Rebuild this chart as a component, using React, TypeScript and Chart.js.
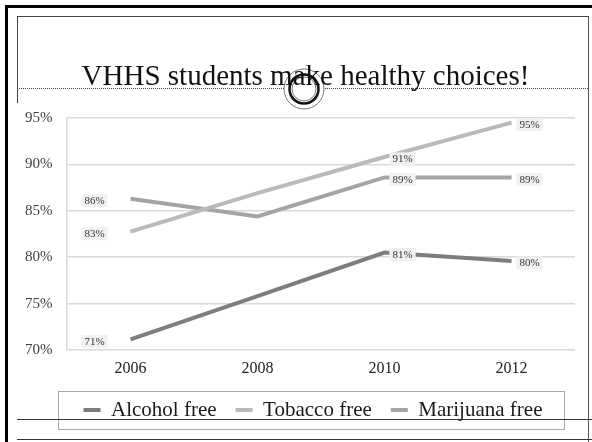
import React, { useEffect, useRef } from 'react';
import { Chart, registerables } from 'chart.js';

Chart.register(...registerables);

// ---- data ----
const years = ['2006', '2008', '2010', '2012'];
const alcoholFree = [71.15, 75.8, 80.5, 79.6];
const tobaccoFree = [82.75, 86.9, 90.8, 94.5];
const marijuanaFree = [86.3, 84.4, 88.6, 88.6];
const labelledYears = ['2006', '2010', '2012'];
const seriesNames = ['Alcohol free', 'Tobacco free', 'Marijuana free'];
const yMin = 70;
const yMax = 95;
const yStep = 5;
const titleText = 'VHHS students make healthy choices!';

const SERIF = '"Liberation Serif", "Times New Roman", serif';

const pointLabelPlugin = {
  id: 'pointLabels',
  afterDatasetsDraw(chart: any) {
    const ctx = chart.ctx;
    ctx.save();
    ctx.font = '11px ' + SERIF;
    ctx.textBaseline = 'middle';
    ctx.textAlign = 'center';
    chart.data.datasets.forEach((ds: any, di: number) => {
      const meta = chart.getDatasetMeta(di);
      meta.data.forEach((pt: any, i: number) => {
        const year = chart.data.labels[i];
        if (!labelledYears.includes(year)) return;
        const text = Math.round(ds.data[i]) + '%';
        const w = ctx.measureText(text).width + 6;
        const h = 13;
        const cx = i === 0 ? pt.x - 36 : pt.x + 18;
        const cy = pt.y + 2;
        ctx.fillStyle = '#f1f1f1';
        ctx.fillRect(cx - w / 2, cy - h / 2, w, h);
        ctx.fillStyle = '#333333';
        ctx.fillText(text, cx, cy + 0.5);
      });
    });
    ctx.restore();
  },
};

const legendFramePlugin = {
  id: 'legendFrame',
  afterDraw(chart: any) {
    const boxes = chart.legend && chart.legend.legendHitBoxes;
    if (!boxes || !boxes.length) return;
    const ctx = chart.ctx;
    const first = boxes[0];
    const last = boxes[boxes.length - 1];
    const left = Math.round(first.left - 26);
    const right = Math.round(last.left + last.width + 22);
    const top = Math.round(first.top - 9);
    const bottom = Math.round(first.top + first.height + 8);
    ctx.save();
    ctx.strokeStyle = '#a8a8a8';
    ctx.lineWidth = 1;
    ctx.strokeRect(left + 0.5, top + 0.5, right - left, bottom - top);
    ctx.restore();
  },
};

export default function App() {
  const canvasRef = useRef<HTMLCanvasElement | null>(null);

  useEffect(() => {
    if (!canvasRef.current) return;
    const chart = new Chart(canvasRef.current, {
      type: 'line',
      data: {
        labels: years,
        datasets: [
          {
            label: seriesNames[0],
            data: alcoholFree,
            borderColor: '#7d7d7d',
            backgroundColor: '#7d7d7d',
            borderWidth: 4,
            pointRadius: 0,
            tension: 0,
          },
          {
            label: seriesNames[1],
            data: tobaccoFree,
            borderColor: '#bababa',
            backgroundColor: '#bababa',
            borderWidth: 4,
            pointRadius: 0,
            tension: 0,
          },
          {
            label: seriesNames[2],
            data: marijuanaFree,
            borderColor: '#a4a4a4',
            backgroundColor: '#a4a4a4',
            borderWidth: 4,
            pointRadius: 0,
            tension: 0,
          },
        ],
      },
      options: {
        responsive: false,
        animation: false,
        devicePixelRatio: 1,
        layout: { padding: { left: 51, right: 17, top: 118, bottom: 11.5 } },
        plugins: {
          legend: {
            position: 'bottom',
            labels: {
              usePointStyle: true,
              pointStyle: 'line',
              pointStyleWidth: 17,
              padding: 19,
              color: '#1a1a1a',
              font: { family: SERIF, size: 21 },
            },
          },
          tooltip: { enabled: false },
          title: { display: false },
        },
        scales: {
          x: {
            offset: true,
            grid: { display: false, offset: true },
            border: { display: false },
            ticks: { color: '#222222', padding: 1, font: { family: SERIF, size: 16 } },
            afterFit: (s: any) => {
              s.height = 30.5;
            },
          },
          y: {
            min: yMin,
            max: yMax,
            ticks: {
              stepSize: yStep,
              mirror: true,
              padding: -42,
              color: '#404040',
              font: { family: SERIF, size: 15 },
              callback: (v: any) => v + '%',
            },
            grid: { color: '#d9d9d9', lineWidth: 1.5, drawTicks: false },
            border: { color: '#d9d9d9', width: 1.5 },
            afterFit: (s: any) => {
              s.width = 16;
            },
          },
        },
      },
      plugins: [pointLabelPlugin, legendFramePlugin],
    } as any);
    return () => chart.destroy();
  }, []);

  return (
    <div
      style={{
        position: 'absolute',
        left: 0,
        top: 0,
        width: 592,
        height: 442,
        overflow: 'hidden',
        background: '#ffffff',
      }}
    >
      <canvas
        ref={canvasRef}
        width={592}
        height={442}
        style={{ position: 'absolute', left: 0, top: 0, width: 592, height: 442 }}
      />
      <svg
        width={592}
        height={442}
        style={{ position: 'absolute', left: 0, top: 0, pointerEvents: 'none' }}
      >
        <line x1={5} y1={6.5} x2={592} y2={6.5} stroke="#000" strokeWidth={3} />
        <line x1={6.5} y1={5} x2={6.5} y2={442} stroke="#000" strokeWidth={3} />
        <line x1={17} y1={16.5} x2={589} y2={16.5} stroke="#444" strokeWidth={1} />
        <line x1={17.5} y1={16} x2={17.5} y2={103} stroke="#444" strokeWidth={1} />
        <line x1={588.5} y1={16} x2={588.5} y2={442} stroke="#555" strokeWidth={1} />
        <line x1={17} y1={88.5} x2={588} y2={88.5} stroke="#444" strokeWidth={1} strokeDasharray="1,1" />
        <line x1={17} y1={419.5} x2={592} y2={419.5} stroke="#333" strokeWidth={1} />
        <line x1={17} y1={439.5} x2={592} y2={439.5} stroke="#333" strokeWidth={1} />
        <circle cx={304} cy={89} r={20} fill="#fff" stroke="#777" strokeWidth={1} />
        <circle cx={304} cy={89} r={14.5} fill="none" stroke="#111" strokeWidth={2.5} />
        <circle cx={304} cy={89} r={12} fill="none" stroke="#777" strokeWidth={1} />
      </svg>
      <div
        style={{
          position: 'absolute',
          left: 17,
          top: 61,
          width: 577,
          textAlign: 'center',
          fontFamily: SERIF,
          fontSize: 29,
          lineHeight: 1,
          color: '#111',
          whiteSpace: 'nowrap',
        }}
      >
        {titleText}
      </div>
    </div>
  );
}
